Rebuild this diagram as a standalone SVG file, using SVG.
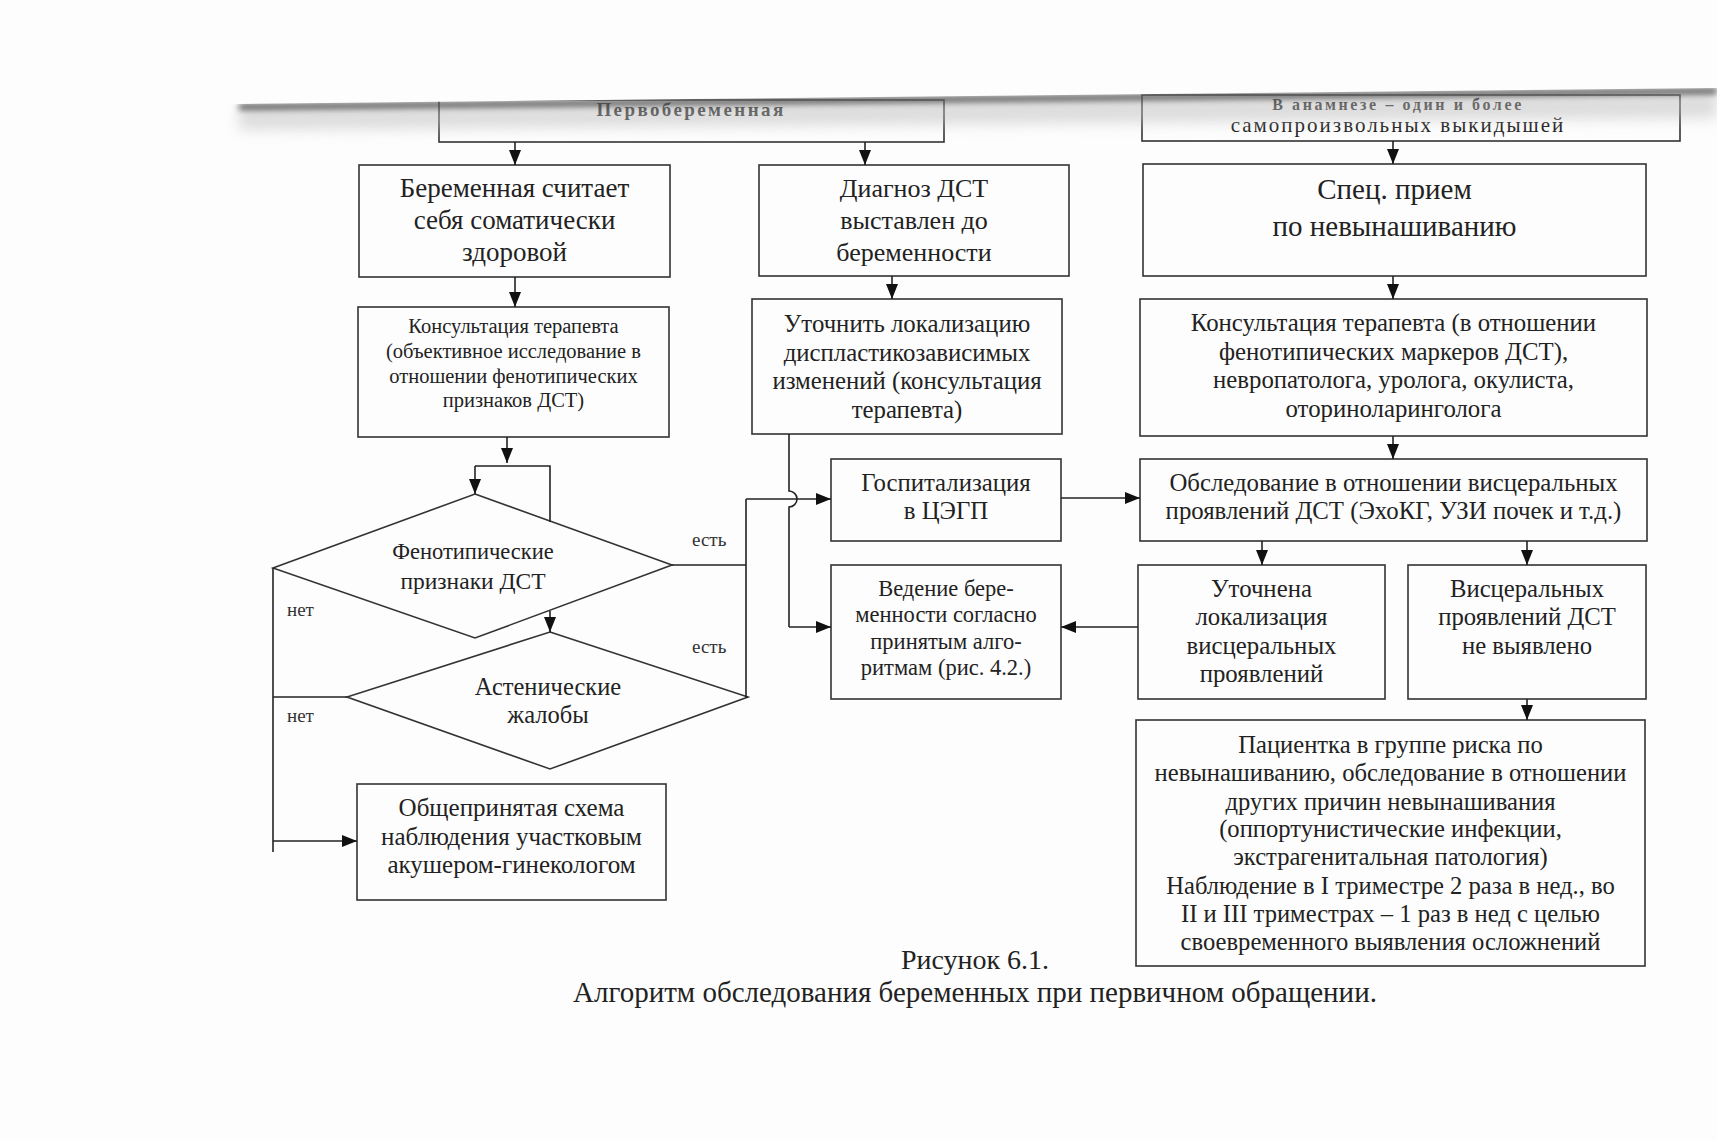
<svg xmlns="http://www.w3.org/2000/svg" width="1717" height="1140" viewBox="0 0 1717 1140">
<defs>
<style>
.box{fill:none;stroke:#333;stroke-width:1.6}
.t{font-family:"Liberation Serif","Times New Roman",serif;fill:#222;text-anchor:middle}
.lbl{font-family:"Liberation Serif","Times New Roman",serif;fill:#333;font-size:19px}
.c{fill:none;stroke:#222;stroke-width:1.6}
</style>
<marker id="ah" markerWidth="15" markerHeight="12" refX="15" refY="6" orient="auto" markerUnits="userSpaceOnUse" viewBox="0 0 15 12">
<path d="M0,0 L15,6 L0,12 Z" fill="#111"/>
</marker>
<filter id="blur" x="-5%" y="-200%" width="110%" height="500%"><feGaussianBlur stdDeviation="3"/></filter>
<filter id="blur2" x="-5%" y="-200%" width="110%" height="500%"><feGaussianBlur stdDeviation="7"/></filter>
</defs>
<rect width="1717" height="1140" fill="#fdfdfd"/>

<g id="top1">
<rect class="box" x="439" y="100" width="505" height="42"/>
<text class="t" x="691" y="116" font-size="19" font-weight="bold" letter-spacing="2.4" fill="#444">Первобеременная</text>
</g>
<g id="top2">
<rect class="box" x="1142" y="95" width="538" height="46"/>
<text class="t" x="1398" y="110" font-size="16" font-weight="bold" letter-spacing="2.6" fill="#444">В анамнезе – один и более</text>
<text class="t" x="1398" y="132" font-size="21" letter-spacing="2">самопроизвольных выкидышей</text>
</g>

<!-- paper edge -->
<g id="paperedge">
<polygon points="239,108 1717,92 1717,118 239,130" fill="#bbb" opacity="0.5" filter="url(#blur2)"/>
<polygon points="239,104 1717,88 1717,94 239,110" fill="#555" filter="url(#blur)"/>
<polygon points="0,0 1717,0 1717,88 239,104 0,104" fill="#fdfdfd"/>
</g>

<g id="n1">
<rect class="box" x="359" y="165" width="311" height="112"/>
<text class="t" font-size="27"><tspan x="514.5" y="197">Беременная считает</tspan><tspan x="514.5" y="229">себя соматически</tspan><tspan x="514.5" y="261">здоровой</tspan></text>
</g>
<g id="n2">
<rect class="box" x="759" y="165" width="310" height="111"/>
<text class="t" font-size="26"><tspan x="914" y="197">Диагноз ДСТ</tspan><tspan x="914" y="229">выставлен до</tspan><tspan x="914" y="261">беременности</tspan></text>
</g>
<g id="n3">
<rect class="box" x="1143" y="164" width="503" height="112"/>
<text class="t" font-size="29"><tspan x="1394.5" y="199">Спец. прием</tspan><tspan x="1394.5" y="236">по невынашиванию</tspan></text>
</g>
<g id="n4">
<rect class="box" x="358" y="307" width="311" height="130"/>
<text class="t" font-size="20.5"><tspan x="513.5" y="333">Консультация терапевта</tspan><tspan x="513.5" y="358">(объективное исследование в</tspan><tspan x="513.5" y="383">отношении фенотипических</tspan><tspan x="513.5" y="407">признаков ДСТ)</tspan></text>
</g>
<g id="n5">
<rect class="box" x="752" y="299" width="310" height="135"/>
<text class="t" font-size="24.8"><tspan x="907" y="332">Уточнить локализацию</tspan><tspan x="907" y="361">диспластикозависимых</tspan><tspan x="907" y="389">изменений (консультация</tspan><tspan x="907" y="418">терапевта)</tspan></text>
</g>
<g id="n6">
<rect class="box" x="1140" y="299" width="507" height="137"/>
<text class="t" font-size="24.8"><tspan x="1393.5" y="331">Консультация терапевта (в отношении</tspan><tspan x="1393.5" y="360">фенотипических маркеров ДСТ),</tspan><tspan x="1393.5" y="388">невропатолога, уролога, окулиста,</tspan><tspan x="1393.5" y="417">оториноларинголога</tspan></text>
</g>
<g id="d1">
<polygon class="box" points="475,494 672,565 475,638 273,568"/>
<text class="t" font-size="22.5"><tspan x="473" y="559">Фенотипические</tspan><tspan x="473" y="589" font-size="23.5">признаки ДСТ</tspan></text>
</g>
<g id="d2">
<polygon class="box" points="550,632 748,697 550,769 347,697"/>
<text class="t" font-size="24.5"><tspan x="548" y="695">Астенические</tspan><tspan x="548" y="723">жалобы</tspan></text>
</g>
<g id="n7">
<rect class="box" x="831" y="459" width="230" height="82"/>
<text class="t" font-size="24.8"><tspan x="946" y="491">Госпитализация</tspan><tspan x="946" y="519">в ЦЭГП</tspan></text>
</g>
<g id="n8">
<rect class="box" x="1140" y="459" width="507" height="82"/>
<text class="t" font-size="24.8"><tspan x="1393.5" y="491">Обследование в отношении висцеральных</tspan><tspan x="1393.5" y="519">проявлений ДСТ (ЭхоКГ, УЗИ почек и т.д.)</tspan></text>
</g>
<g id="n9">
<rect class="box" x="831" y="565" width="230" height="134"/>
<text class="t" font-size="22.5"><tspan x="946" y="596">Ведение бере-</tspan><tspan x="946" y="622">менности согласно</tspan><tspan x="946" y="649">принятым алго-</tspan><tspan x="946" y="675">ритмам (рис. 4.2.)</tspan></text>
</g>
<g id="n10">
<rect class="box" x="1138" y="565" width="247" height="134"/>
<text class="t" font-size="24.8"><tspan x="1261.5" y="597">Уточнена</tspan><tspan x="1261.5" y="625">локализация</tspan><tspan x="1261.5" y="654">висцеральных</tspan><tspan x="1261.5" y="682">проявлений</tspan></text>
</g>
<g id="n11">
<rect class="box" x="1408" y="565" width="238" height="134"/>
<text class="t" font-size="24.7"><tspan x="1527" y="597">Висцеральных</tspan><tspan x="1527" y="625">проявлений ДСТ</tspan><tspan x="1527" y="654">не выявлено</tspan></text>
</g>
<g id="n12">
<rect class="box" x="1136" y="720" width="509" height="246"/>
<text class="t" font-size="24.6"><tspan x="1390.5" y="753">Пациентка в группе риска по</tspan><tspan x="1390.5" y="781">невынашиванию, обследование в отношении</tspan><tspan x="1390.5" y="810">других причин невынашивания</tspan><tspan x="1390.5" y="837">(оппортунистические инфекции,</tspan><tspan x="1390.5" y="865">экстрагенитальная патология)</tspan><tspan x="1390.5" y="894">Наблюдение в I триместре 2 раза в нед., во</tspan><tspan x="1390.5" y="922">II и III триместрах – 1 раз в нед с целью</tspan><tspan x="1390.5" y="950">своевременного выявления осложнений</tspan></text>
</g>
<g id="n13">
<rect class="box" x="357" y="784" width="309" height="116"/>
<text class="t" font-size="25"><tspan x="511.5" y="816">Общепринятая схема</tspan><tspan x="511.5" y="845">наблюдения участковым</tspan><tspan x="511.5" y="873">акушером-гинекологом</tspan></text>
</g>

<g id="connectors">
<line class="c" x1="515" y1="142" x2="515" y2="165" marker-end="url(#ah)"/>
<line class="c" x1="865" y1="142" x2="865" y2="165" marker-end="url(#ah)"/>
<line class="c" x1="1393" y1="141" x2="1393" y2="164" marker-end="url(#ah)"/>
<line class="c" x1="515" y1="277" x2="515" y2="307" marker-end="url(#ah)"/>
<line class="c" x1="892" y1="276" x2="892" y2="299" marker-end="url(#ah)"/>
<line class="c" x1="1393" y1="276" x2="1393" y2="299" marker-end="url(#ah)"/>
<line class="c" x1="507" y1="437" x2="507" y2="463" marker-end="url(#ah)"/>
<polyline class="c" points="550,522 550,466 475,466"/>
<line class="c" x1="475" y1="466" x2="475" y2="494" marker-end="url(#ah)"/>
<line class="c" x1="550" y1="611" x2="550" y2="632" marker-end="url(#ah)"/>
<polyline class="c" points="273,568 273,852"/>
<line class="c" x1="347" y1="697" x2="273" y2="697"/>
<line class="c" x1="273" y1="841" x2="357" y2="841" marker-end="url(#ah)"/>
<polyline class="c" points="672,565 746,565"/>
<polyline class="c" points="748,697 746,697 746,499"/>
<line class="c" x1="746" y1="499" x2="831" y2="499" marker-end="url(#ah)"/>
<path class="c" d="M789,434 L789,491 A8,8 0 0 1 789,507 L789,627"/>
<line class="c" x1="789" y1="627" x2="831" y2="627" marker-end="url(#ah)"/>
<line class="c" x1="1061" y1="498" x2="1140" y2="498" marker-end="url(#ah)"/>
<line class="c" x1="1393" y1="436" x2="1393" y2="459" marker-end="url(#ah)"/>
<line class="c" x1="1262" y1="541" x2="1262" y2="565" marker-end="url(#ah)"/>
<line class="c" x1="1527" y1="541" x2="1527" y2="565" marker-end="url(#ah)"/>
<line class="c" x1="1138" y1="627" x2="1061" y2="627" marker-end="url(#ah)"/>
<line class="c" x1="1527" y1="699" x2="1527" y2="720" marker-end="url(#ah)"/>
<text class="lbl" x="692" y="546">есть</text>
<text class="lbl" x="692" y="653">есть</text>
<text class="lbl" x="287" y="616">нет</text>
<text class="lbl" x="287" y="722">нет</text>
</g>

<g id="caption">
<text class="t" x="975" y="969" font-size="28" fill="#333">Рисунок 6.1.</text>
<text class="t" x="975" y="1002" font-size="29" fill="#333">Алгоритм обследования беременных при первичном обращении.</text>
</g>
</svg>
